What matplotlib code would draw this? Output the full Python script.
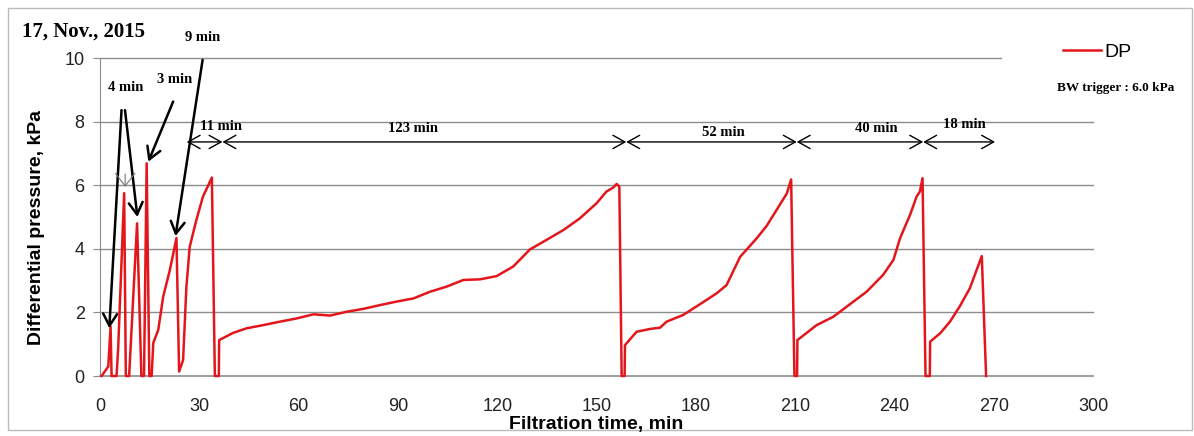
import numpy as np
import matplotlib.pyplot as plt

# filtration time (min) and differential pressure (kPa)
time_min = [0.5, 2.5, 3.2, 3.5,
            5.0, 5.5, 7.3, 7.8,
            8.8, 11.2, 12.5,
            13.3, 14.1, 14.9,
            15.6, 16.1, 17.6, 19.1, 21.1, 23.1, 23.9, 25.1, 26.1, 27.1, 29.1, 31.1, 33.8, 34.7,
            35.9, 36.0, 40.3, 44.3, 49.3, 54.4, 59.4, 64.5, 69.5, 74.5, 79.5, 84.6, 89.6, 94.7,
            99.7, 104.7, 109.8, 114.8, 119.8, 124.8, 129.9, 134.9, 140.0, 145.0, 150.0, 153.0,
            155.1, 156.1, 156.9, 157.6,
            158.5, 158.6, 162.1, 166.2, 169.2, 171.2, 176.2, 181.3, 186.3, 189.3, 193.4, 195.4,
            198.4, 201.4, 204.4, 207.5, 208.8, 209.8,
            210.6, 210.7, 216.5, 221.5, 226.6, 231.6, 236.6, 239.7, 241.7, 244.7, 246.7, 247.7,
            248.5, 249.4,
            250.7, 250.8, 253.8, 256.8, 259.8, 262.8, 266.4, 267.7]
dp_kpa = [0.0, 0.3, 1.55, 0.0,
          0.0, 0.9, 5.75, 0.0,
          0.0, 4.8, 0.0,
          0.0, 6.69, 0.0,
          0.0, 1.04, 1.45, 2.5, 3.33, 4.34, 0.14, 0.5, 2.8, 4.06, 4.9, 5.64, 6.24, 0.0,
          0.0, 1.13, 1.36, 1.50, 1.60, 1.71, 1.81, 1.94, 1.90, 2.02, 2.11, 2.23, 2.34, 2.44,
          2.65, 2.81, 3.02, 3.04, 3.14, 3.44, 3.98, 4.28, 4.59, 4.96, 5.43, 5.80,
          5.93, 6.04, 5.95, 0.0,
          0.0, 0.97, 1.39, 1.48, 1.52, 1.71, 1.92, 2.26, 2.60, 2.86, 3.75, 3.98,
          4.33, 4.72, 5.22, 5.74, 6.18, 0.0,
          0.0, 1.13, 1.60, 1.86, 2.26, 2.65, 3.18, 3.65, 4.33, 5.06, 5.64, 5.80,
          6.22, 0.0,
          0.0, 1.08, 1.34, 1.71, 2.20, 2.76, 3.77, 0.0]

# backwash interval dimension line
interval_edges = [26.2, 37.0, 159.0, 210.5, 248.7, 270.4]
interval_labels = ['11 min', '123 min', '52 min', '40 min', '18 min']
interval_label_x = [36.7, 94.7, 188.3, 234.4, 261.1]
interval_label_y = [7.86, 7.77, 7.66, 7.79, 7.9]

# short-cycle arrows: (label, label_xy, [(tail, head), ...])
short_notes = [
    ('4 min', (7.65, 9.08), [((6.5, 8.36), (2.8, 1.5)), ((7.55, 8.36), (11.3, 5.0))]),
    ('3 min', (22.5, 9.33), [((22.1, 8.63), (14.6, 6.74))]),
    ('9 min', (31.0, 10.65), [((31.0, 9.94), (22.8, 4.40))]),
]

xticks = np.arange(0, 301, 30)
yticks = np.arange(0, 11, 2)

sans = ['Liberation Sans Narrow', 'Liberation Sans', 'DejaVu Sans']
serif = ['Liberation Serif', 'DejaVu Serif']

fig = plt.figure(figsize=(11.94, 4.36), dpi=100)
ax = fig.add_axes([100 / 1194, 1 - 376 / 436, 993 / 1194, 318 / 436])

for y in yticks:
    ax.axhline(y, color='#8c8c8c', lw=1.2 if y == 0 else 1.0, zorder=0, clip_on=False,
               xmax=0.907 if y == 10 else 1.0)

ax.plot(time_min, dp_kpa, color='#e3161c', lw=1.8, label='DP', zorder=3, clip_on=False)

ax.set_xlim(0, 300)
ax.set_ylim(0, 10)
ax.set_xticks(xticks)
ax.set_yticks(yticks)
ax.tick_params(axis='x', length=0, pad=16, labelsize=13, colors='#222222')
ax.tick_params(axis='y', length=5, color='#8c8c8c', pad=6, labelsize=13, colors='#222222')
for lab in ax.get_xticklabels() + ax.get_yticklabels():
    lab.set_family(sans)
for s in ['top', 'right', 'bottom']:
    ax.spines[s].set_visible(False)
ax.spines['left'].set_color('#8c8c8c')

# dimension line of the backwash intervals
for a, b in zip(interval_edges[:-1], interval_edges[1:]):
    ax.annotate('', xy=(b, 7.36), xytext=(a, 7.36),
                arrowprops=dict(arrowstyle='<->, head_length=0.43, head_width=0.24',
                                color='black', lw=1.0, shrinkA=0, shrinkB=0,
                                mutation_scale=20))
for lab, x, y in zip(interval_labels, interval_label_x, interval_label_y):
    ax.text(x, y, lab, ha='center', va='center', fontsize=10.5, fontweight='bold',
            family=serif)

for lab, (lx, ly), arrows in short_notes:
    ax.text(lx, ly, lab, ha='center', va='center', fontsize=10.5, fontweight='bold',
            family=serif, clip_on=False)
    for tail, head in arrows:
        ax.annotate('', xy=head, xytext=tail, annotation_clip=False,
                    arrowprops=dict(arrowstyle='->, head_length=0.43, head_width=0.25',
                                    color='black', lw=1.8, shrinkA=0, shrinkB=0,
                                    mutation_scale=20))
# thin pointer above the 5.75 kPa spike
ax.annotate('', xy=(7.6, 5.95), xytext=(7.6, 6.35),
            arrowprops=dict(arrowstyle='->, head_length=0.45, head_width=0.35',
                            color='#777777', lw=0.8, shrinkA=0, shrinkB=0,
                            mutation_scale=20))

fig.text(22 / 1194, 1 - 32 / 436, '17, Nov., 2015', fontsize=15, fontweight='bold',
         family=serif, va='center', ha='left')
fig.text(37 / 1194, 1 - 227 / 436, 'Differential pressure, kPa', rotation=90,
         fontsize=14, fontweight='bold', family=sans, ha='center', va='center')
fig.text(596 / 1194, 1 - 424 / 436, 'Filtration time, min', fontsize=14,
         fontweight='bold', family=sans, ha='center', va='center')

leg = fig.legend(loc='center left', bbox_to_anchor=(1063 / 1194, 1 - 52 / 436),
                 frameon=False, prop={'family': sans, 'size': 14},
                 handlelength=1.95, handletextpad=0.2, borderpad=0, borderaxespad=0)
fig.text(1116 / 1194, 1 - 88 / 436, 'BW trigger : 6.0 kPa', fontsize=9.5,
         fontweight='bold', family=serif, ha='center', va='center')

# thin frame round the whole picture
fig.patches.append(plt.Rectangle((8 / 1194, 6 / 436), 1 - 10 / 1194, 1 - 14 / 436,
                                 transform=fig.transFigure, fill=False,
                                 edgecolor='#bbbbbb', lw=1.0))

fig.savefig('out.png', dpi=100)
